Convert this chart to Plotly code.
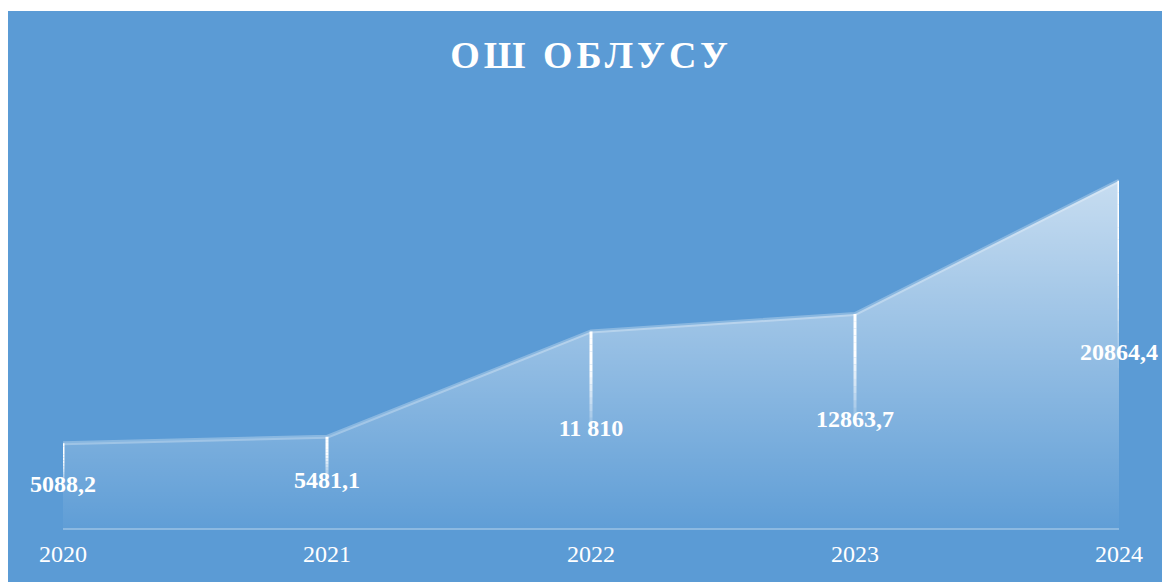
import plotly.graph_objects as go

years = ["2020", "2021", "2022", "2023", "2024"]
values = [5088.2, 5481.1, 11810, 12863.7, 20864.4]
labels = ["5088,2", "5481,1", "11 810", "12863,7", "20864,4"]
title_text = "ОШ ОБЛУСУ"

BG = "#5B9BD5"
W, H = 1154, 574
L, T, B = 55, 104, 54
pw = 1056
R = W - L - pw
ph = H - T - B

fig = go.Figure()

# area with vertical gradient
fig.add_trace(go.Scatter(
    x=years, y=values, mode="lines",
    line=dict(color="rgba(255,255,255,0.28)", width=4),
    fill="tozeroy",
    fillgradient=dict(type="vertical",
                      colorscale=[[0, "rgba(255,255,255,0.03)"],
                                  [1, "rgba(255,255,255,0.66)"]]),
    hoverinfo="skip", showlegend=False,
))

# fading drop lines from each point down toward its label
n = 16
for xi, v in zip(years, values):
    top = v
    bottom = v * 0.46
    for k in range(n):
        y0 = top - (top - bottom) * k / n
        y1 = top - (top - bottom) * (k + 1) / n
        t = k / (n - 1)
        op = 1.0 if t < 0.35 else 1.0 - 0.95 * ((t - 0.35) / 0.65)
        fig.add_trace(go.Scatter(
            x=[xi, xi], y=[y0, y1], mode="lines",
            line=dict(color=f"rgba(255,255,255,{op:.3f})", width=3),
            hoverinfo="skip", showlegend=False,
        ))

# data labels at half-height
fig.add_trace(go.Scatter(
    x=years, y=[v / 2 for v in values], mode="text",
    text=labels, textposition="middle center",
    textfont=dict(family="Liberation Serif", size=24, color="white", weight="bold"),
    hoverinfo="skip", showlegend=False, cliponaxis=False,
))

# blue panel behind chart (thin white strip at top)
fig.add_shape(type="rect", xref="paper", yref="paper",
              x0=-(L + 2) / pw, x1=(W + 2 - L) / pw,
              y0=-(B + 2) / ph, y1=(H - B - 3) / ph,
              fillcolor=BG, line=dict(width=0), layer="below")

fig.update_layout(
    width=W, height=H,
    margin=dict(l=L, r=R, t=T, b=B),
    paper_bgcolor="white", plot_bgcolor="rgba(0,0,0,0)",
    title=dict(text=f'<span style="letter-spacing:4px">{title_text}</span>',
               x=583 / W, xanchor="center",
               y=1 - 47 / H, yanchor="middle",
               font=dict(family="Liberation Serif", size=38, color="white", weight="bold")),
    xaxis=dict(range=[0, 4], showgrid=False, zeroline=False,
               showline=True, linecolor="rgba(255,255,255,0.3)", linewidth=2,
               ticks="", ticklabelstandoff=3,
               tickfont=dict(family="Liberation Serif", size=24, color="white"),
               fixedrange=True),
    yaxis=dict(range=[0, 25000], visible=False, fixedrange=True),
    showlegend=False,
)

fig.write_html("out.html",
               post_script="document.documentElement.style.overflow='hidden';document.body.style.marginRight='0px';")
